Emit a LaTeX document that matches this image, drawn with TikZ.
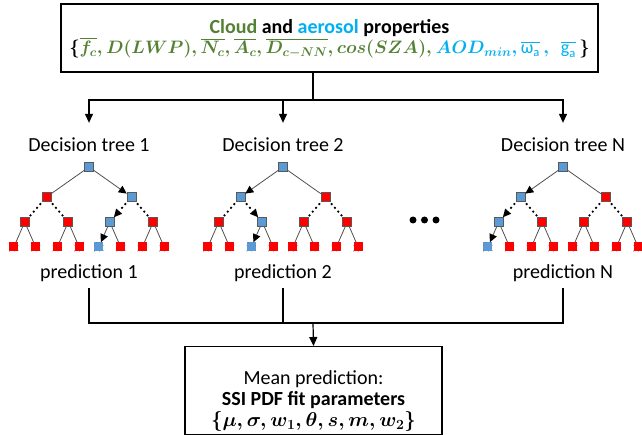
\documentclass[tikz,border=0pt]{standalone}
\usepackage{fix-cm}
\usepackage{amsmath}
\usepackage{xcolor}
\usepackage{fontspec}
\setmainfont{Carlito}
\usepackage{tikz}
\usetikzlibrary{arrows.meta}

\definecolor{cloudgreen}{RGB}{84,130,53}
\definecolor{aerosolblue}{RGB}{0,176,240}
\definecolor{nodeblue}{RGB}{91,155,213}
\definecolor{nodered}{RGB}{255,0,0}
\definecolor{edgegray}{RGB}{80,80,80}

\tikzset{
  redbox/.style={rectangle, draw=black!65, fill=nodered, line width=0.6pt,
    minimum size=9pt, inner sep=0pt},
  bluebox/.style={redbox, fill=nodeblue},
  treeline/.style={draw=edgegray, line width=0.8pt, solid, line cap=butt},
  dotline/.style={draw=black, line width=2.6pt, dash pattern=on 0pt off 5pt,
    line cap=round, shorten <=3pt},
  hit/.style={-{Triangle[length=8pt,width=8pt,line width=0pt,color=black]}},
  link/.style={line width=1.2pt},
  textbox/.style={draw, line width=1.3pt, align=center,
    font=\fontsize{20}{23}\selectfont},
  treelbl/.style={font=\fontsize{20}{24}\selectfont, inner xsep=0pt}
}

\begin{document}
\begin{tikzpicture}[
  x=1pt, y=-1pt,
  >={Triangle[length=9pt,width=8pt]},
  every child node/.style={redbox},
  level 1/.style={level distance=30pt, sibling distance=85pt,
    edge from parent/.style={treeline}},
  level 2/.style={level distance=25pt, sibling distance=43.5pt,
    edge from parent/.style={dotline}},
  level 3/.style={level distance=25pt, sibling distance=21.8pt,
    edge from parent/.style={treeline}}
]
  \useasboundingbox (0,0) rectangle (642,435);

  % input features
  \node[textbox, minimum width=537pt, minimum height=68pt] (props) at (329.5,38)
    {\rule{0pt}{16pt}\textbf{\textcolor{cloudgreen}{Cloud} and \textcolor{aerosolblue}{aerosol} properties}\\[-3pt]
     \fontsize{18}{20}\selectfont
     {\boldmath$\{\textcolor{cloudgreen}{\overline{f_c}, D(LWP), \overline{N_c}, \overline{A_c},
       \overline{D_{c-NN}}, cos(SZA),}\ \textcolor{aerosolblue}{AOD_{min}, \overline{\text{\mdseries ω}_\text{\mdseries a}}\,,\ \
       \overline{\text{\mdseries g}_\text{\mdseries a}}}\,\}$}};
  \coordinate (fork) at (313,100);

  % forest
  \node[treelbl, inner ysep=15pt] (lab1) at (89,145) {Decision tree 1};
  \node[treelbl, inner ysep=15pt] (lab2) at (283,145) {Decision tree 2};
  \node[treelbl, inner ysep=15pt] (labN) at (563,145) {Decision tree N};

  \node[bluebox] (t1) at (89,167) {}
    child {node {}
      child foreach \j in {1,2} {node {} child foreach \k in {1,2} {node {}}}}
    child {node[bluebox] {}
      child {node[bluebox] {}
        child {node[bluebox] {} edge from parent[hit]}
        child {node {}}
        edge from parent[hit]}
      child {node {} child foreach \k in {1,2} {node {}}}
      edge from parent[hit]};

  \node[bluebox] (t2) at (283,167) {}
    child {node[bluebox] {}
      child {node {} child foreach \k in {1,2} {node {}}}
      child {node[bluebox] {}
        child {node[bluebox] {} edge from parent[hit]}
        child {node {}}
        edge from parent[hit]}
      edge from parent[hit]}
    child {node {}
      child foreach \j in {1,2} {node {} child foreach \k in {1,2} {node {}}}};

  \node[bluebox] (tN) at (563,167) {}
    child {node[bluebox] {}
      child {node[bluebox] {}
        child {node[bluebox] {} edge from parent[hit]}
        child {node {}}
        edge from parent[hit]}
      child {node {} child foreach \k in {1,2} {node {}}}
      edge from parent[hit]}
    child {node {}
      child foreach \j in {1,2} {node {} child foreach \k in {1,2} {node {}}}};

  \foreach \x in {413,424.5,436}
    \fill (\x,220) circle (3.5pt);

  \node[treelbl, inner ysep=6pt] (pred1) at (89,273) {prediction 1};
  \node[treelbl, inner ysep=6pt] (pred2) at (283,273) {prediction 2};
  \node[treelbl, inner ysep=6pt] (predN) at (563,273) {prediction N};
  \coordinate (join) at (313,323);

  % output
  \node[textbox, minimum width=257pt, minimum height=85pt] (mean) at (313.5,390.5)
    {\rule{0pt}{34pt}Mean prediction:\\[-2pt]
     \textbf{SSI PDF fit parameters}\\[-2pt]
     {\boldmath$\{\mu, \sigma, w_1, \theta, s, m, w_2\}$}};

  \draw[link] (props.south -| fork) -- (fork);
  \foreach \t in {lab1,lab2,labN}
    \draw[link,->] (fork) -| (\t.north);
  \draw[link] (pred1.south) |- (join -| predN) -- (predN.south);
  \draw[link] (pred2.south) -- (pred2.south |- join);
  \draw[link,->] (join) -- (mean.north);
\end{tikzpicture}
\end{document}
